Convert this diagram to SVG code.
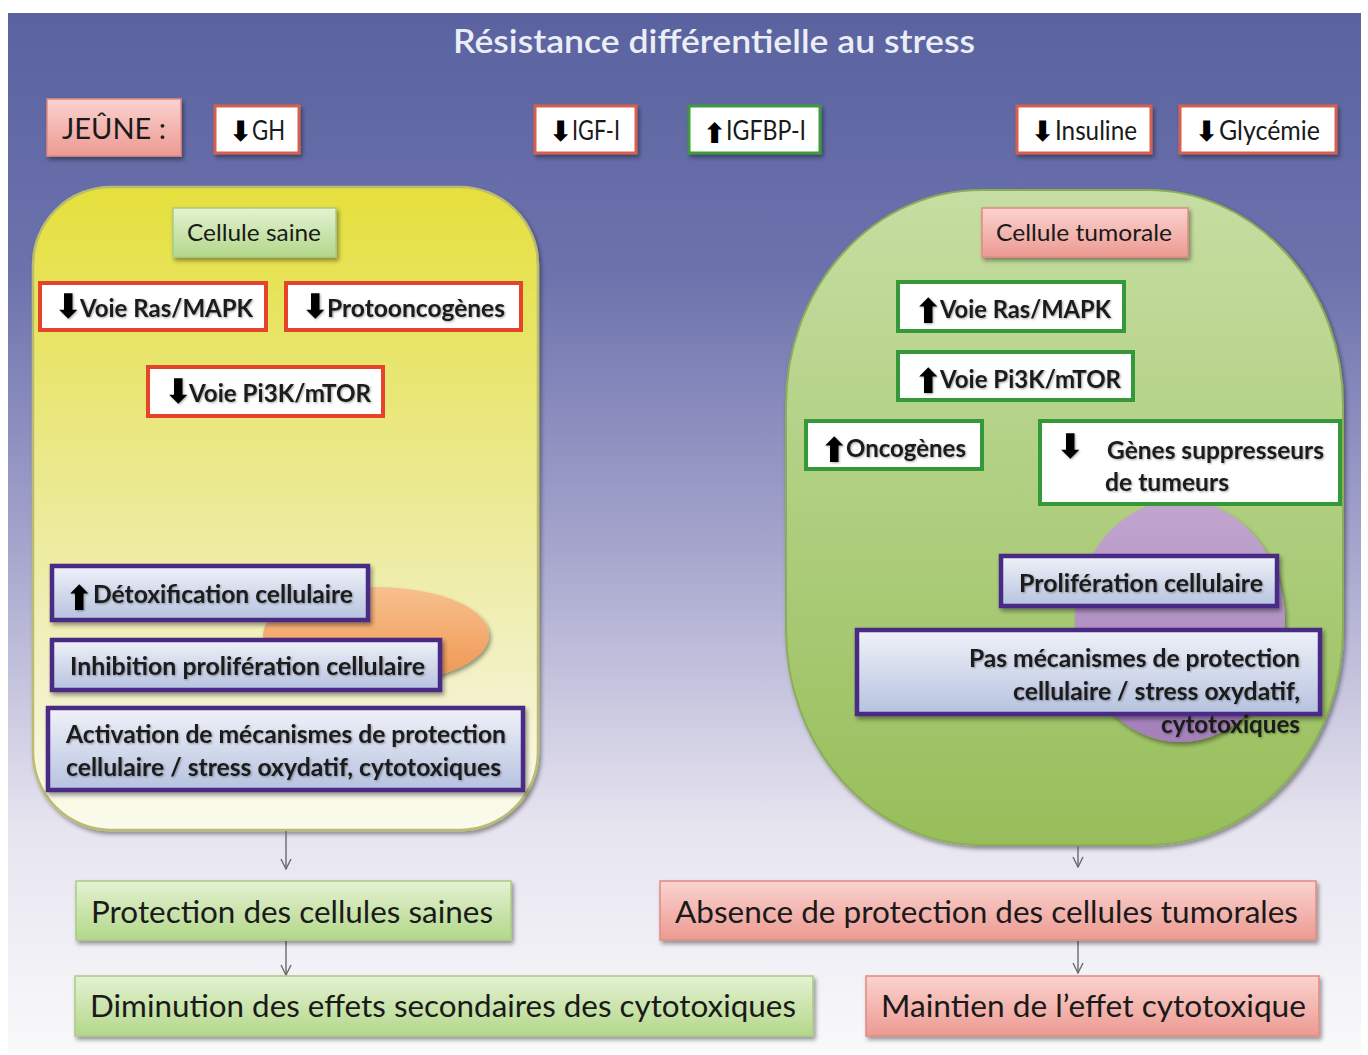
<svg xmlns="http://www.w3.org/2000/svg" width="1368" height="1055" viewBox="0 0 1368 1055">
<defs>
  <linearGradient id="bg" x1="0" y1="0" x2="0" y2="1">
    <stop offset="0" stop-color="#5a63a0"/>
    <stop offset="0.25" stop-color="#6c72ac"/>
    <stop offset="0.5" stop-color="#a2a2cb"/>
    <stop offset="0.78" stop-color="#e6e4ef"/>
    <stop offset="1" stop-color="#f9f9fb"/>
  </linearGradient>
  <linearGradient id="yel" x1="0" y1="0" x2="0" y2="1">
    <stop offset="0" stop-color="#e5e03c"/>
    <stop offset="0.45" stop-color="#ebe98e"/>
    <stop offset="0.8" stop-color="#f3f2cc"/>
    <stop offset="1" stop-color="#fbfbee"/>
  </linearGradient>
  <linearGradient id="grn" x1="0" y1="0" x2="0" y2="1">
    <stop offset="0" stop-color="#c6dea2"/>
    <stop offset="1" stop-color="#97be5a"/>
  </linearGradient>
  <linearGradient id="pinkg" x1="0" y1="0" x2="0" y2="1">
    <stop offset="0" stop-color="#fbd3cf"/>
    <stop offset="1" stop-color="#ec9a92"/>
  </linearGradient>
  <linearGradient id="greeng" x1="0" y1="0" x2="0" y2="1">
    <stop offset="0" stop-color="#e4f2d2"/>
    <stop offset="1" stop-color="#b3d78a"/>
  </linearGradient>
  <linearGradient id="blueg" x1="0" y1="0" x2="0" y2="1">
    <stop offset="0" stop-color="#f0f2f9"/>
    <stop offset="1" stop-color="#b6c2df"/>
  </linearGradient>
  <linearGradient id="orang" x1="0" y1="0" x2="0" y2="1">
    <stop offset="0" stop-color="#f7c08e"/>
    <stop offset="1" stop-color="#ef9650"/>
  </linearGradient>
  <linearGradient id="purpg" x1="0" y1="0" x2="0" y2="1">
    <stop offset="0" stop-color="#c2a6cf"/>
    <stop offset="1" stop-color="#a47fba"/>
  </linearGradient>
  <filter id="sh" x="-10%" y="-20%" width="120%" height="150%">
    <feDropShadow dx="2" dy="3" stdDeviation="2" flood-color="#000" flood-opacity="0.4"/>
  </filter>
  <filter id="tsh" x="-5%" y="-20%" width="110%" height="150%">
    <feDropShadow dx="1" dy="1" stdDeviation="0.8" flood-color="#000" flood-opacity="0.35"/>
  </filter>
  <marker id="arr" viewBox="0 0 12 12" refX="11" refY="6" markerWidth="12" markerHeight="12" markerUnits="userSpaceOnUse" orient="auto">
    <path d="M1,1 L11,6 L1,11" fill="none" stroke="#6a6a6a" stroke-width="1.4"/>
  </marker>
  <style>
    text { font-family: Lato, "Liberation Sans", sans-serif; fill: #1a1a1a; }
    .title { font-size: 32px; font-weight: 600; fill: #eceef6; }
    .top { font-size: 26px; }
    .lab { font-size: 25px; font-weight: bold; }
    .big { font-size: 31px; }
    .ar { font-family: "DejaVu Sans", sans-serif; font-size: 34px; font-weight: bold; fill: #000; }
    .ar2 { font-family: "DejaVu Sans", sans-serif; font-size: 28px; font-weight: bold; fill: #000; }
    .redb { fill: #fff; stroke: #d5604e; stroke-width: 3; }
    .redB { fill: #fff; stroke: #e6432b; stroke-width: 4; }
    .grnB { fill: #fff; stroke: #35993a; stroke-width: 4; }
    .grnb { fill: #fff; stroke: #3c9a3c; stroke-width: 3; }
    .purB { fill: url(#blueg); stroke: #4a2b84; stroke-width: 4.5; }
    .pink { fill: url(#pinkg); stroke: #e08a82; stroke-width: 1.5; }
    .green { fill: url(#greeng); stroke: #a9cc82; stroke-width: 1.5; }
    .conn { stroke: #6a6a6a; stroke-width: 1.4; fill: none; }
  </style>
</defs>

<rect x="0" y="0" width="1368" height="1055" fill="#ffffff"/>
<rect x="8" y="13" width="1353" height="1040" fill="url(#bg)"/>

<g id="title">
  <text class="title" x="453" y="53" textLength="522" lengthAdjust="spacingAndGlyphs">Résistance différentielle au stress</text>
</g>

<!-- Top row -->
<g id="jeune">
  <rect class="pink" x="47" y="99" width="134" height="57" filter="url(#sh)"/>
  <text x="62" y="139" font-size="28" textLength="104" lengthAdjust="spacingAndGlyphs">JEÛNE :</text>
</g>
<g id="gh">
  <rect class="redb" x="215" y="106" width="84" height="47" filter="url(#sh)"/>
  <text class="top"><tspan class="ar2" x="229" y="141">⬇</tspan><tspan x="252" y="140" textLength="33" lengthAdjust="spacingAndGlyphs">GH</tspan></text>
</g>
<g id="igf">
  <rect class="redb" x="535" y="106" width="101" height="47" filter="url(#sh)"/>
  <text class="top"><tspan class="ar2" x="549" y="141">⬇</tspan><tspan x="572" y="140" textLength="48" lengthAdjust="spacingAndGlyphs">IGF-I</tspan></text>
</g>
<g id="igfbp">
  <rect class="grnb" x="689" y="106" width="131" height="47" filter="url(#sh)"/>
  <text class="top"><tspan class="ar2" x="703" y="143">⬆</tspan><tspan x="726" y="140" textLength="80" lengthAdjust="spacingAndGlyphs">IGFBP-I</tspan></text>
</g>
<g id="insuline">
  <rect class="redb" x="1017" y="106" width="134" height="47" filter="url(#sh)"/>
  <text class="top"><tspan class="ar2" x="1031" y="141">⬇</tspan><tspan x="1055" y="140" textLength="82" lengthAdjust="spacingAndGlyphs">Insuline</tspan></text>
</g>
<g id="glycemie">
  <rect class="redb" x="1180" y="106" width="156" height="47" filter="url(#sh)"/>
  <text class="top"><tspan class="ar2" x="1195" y="141">⬇</tspan><tspan x="1219" y="140" textLength="101" lengthAdjust="spacingAndGlyphs">Glycémie</tspan></text>
</g>

<!-- Left cell -->
<g id="cellule-saine-zone">
  <rect x="33" y="187" width="505" height="643" rx="78" ry="78" fill="url(#yel)" stroke="#bcbc70" stroke-width="2.5" filter="url(#sh)"/>
  <ellipse cx="376" cy="635" rx="113" ry="48" fill="url(#orang)" filter="url(#sh)"/>
</g>
<g id="cellule-saine">
  <rect class="green" x="173" y="208" width="163" height="49" filter="url(#sh)"/>
  <text x="187" y="241" font-size="24" textLength="134" lengthAdjust="spacingAndGlyphs">Cellule saine</text>
</g>
<g id="l-ras">
  <rect class="redB" x="40" y="283" width="226" height="47"/>
  <text class="lab" filter="url(#tsh)"><tspan class="ar" x="54" y="318">⬇</tspan><tspan x="80" y="317" textLength="173" lengthAdjust="spacingAndGlyphs">Voie Ras/MAPK</tspan></text>
</g>
<g id="l-proto">
  <rect class="redB" x="286" y="283" width="235" height="47"/>
  <text class="lab" filter="url(#tsh)"><tspan class="ar" x="301" y="318">⬇</tspan><tspan x="327" y="317" textLength="178" lengthAdjust="spacingAndGlyphs">Protooncogènes</tspan></text>
</g>
<g id="l-pi3k">
  <rect class="redB" x="148" y="367" width="235" height="49"/>
  <text class="lab" filter="url(#tsh)"><tspan class="ar" x="164" y="403">⬇</tspan><tspan x="189" y="402" textLength="182" lengthAdjust="spacingAndGlyphs">Voie Pi3K/mTOR</tspan></text>
</g>
<g id="l-detox">
  <rect class="purB" x="52" y="566" width="316" height="54" filter="url(#sh)"/>
  <text class="lab" filter="url(#tsh)"><tspan class="ar" x="65" y="610">⬆</tspan><tspan x="93" y="603" textLength="260" lengthAdjust="spacingAndGlyphs">Détoxification cellulaire</tspan></text>
</g>
<g id="l-inhib">
  <rect class="purB" x="52" y="640" width="388" height="50" filter="url(#sh)"/>
  <text class="lab" x="70" y="675" textLength="355" lengthAdjust="spacingAndGlyphs" filter="url(#tsh)">Inhibition prolifération cellulaire</text>
</g>
<g id="l-activ">
  <rect class="purB" x="48" y="708" width="475" height="82" filter="url(#sh)"/>
  <text class="lab" x="66" y="743" textLength="440" lengthAdjust="spacingAndGlyphs" filter="url(#tsh)">Activation de mécanismes de protection</text>
  <text class="lab" x="66" y="776" textLength="435" lengthAdjust="spacingAndGlyphs" filter="url(#tsh)">cellulaire / stress oxydatif, cytotoxiques</text>
</g>

<!-- Right cell -->
<g id="cellule-tumorale-zone">
  <rect x="786" y="190" width="557" height="655" rx="195" ry="215" fill="url(#grn)" stroke="#8cae58" stroke-width="2" filter="url(#sh)"/>
  <ellipse cx="1180" cy="621" rx="105" ry="121" fill="url(#purpg)" filter="url(#sh)"/>
</g>
<g id="cellule-tumorale">
  <rect class="pink" x="982" y="208" width="206" height="49" filter="url(#sh)"/>
  <text x="996" y="241" font-size="24" textLength="176" lengthAdjust="spacingAndGlyphs">Cellule tumorale</text>
</g>
<g id="r-ras">
  <rect class="grnB" x="898" y="282" width="226" height="49"/>
  <text class="lab" filter="url(#tsh)"><tspan class="ar" x="914" y="323">⬆</tspan><tspan x="940" y="318" textLength="171" lengthAdjust="spacingAndGlyphs">Voie Ras/MAPK</tspan></text>
</g>
<g id="r-pi3k">
  <rect class="grnB" x="898" y="352" width="235" height="48"/>
  <text class="lab" filter="url(#tsh)"><tspan class="ar" x="914" y="393">⬆</tspan><tspan x="940" y="388" textLength="181" lengthAdjust="spacingAndGlyphs">Voie Pi3K/mTOR</tspan></text>
</g>
<g id="r-onco">
  <rect class="grnB" x="806" y="421" width="176" height="48"/>
  <text class="lab" filter="url(#tsh)"><tspan class="ar" x="820" y="462">⬆</tspan><tspan x="846" y="457" textLength="120" lengthAdjust="spacingAndGlyphs">Oncogènes</tspan></text>
</g>
<g id="r-supp">
  <rect class="grnB" x="1040" y="421" width="300" height="83"/>
  <text class="lab" filter="url(#tsh)"><tspan class="ar" x="1056" y="458">⬇</tspan><tspan x="1107" y="459" textLength="217" lengthAdjust="spacingAndGlyphs">Gènes suppresseurs</tspan></text>
  <text class="lab" x="1105" y="491" textLength="124" lengthAdjust="spacingAndGlyphs" filter="url(#tsh)">de tumeurs</text>
</g>
<g id="r-prolif">
  <rect class="purB" x="1001" y="556" width="276" height="50" filter="url(#sh)"/>
  <text class="lab" x="1019" y="592" textLength="244" lengthAdjust="spacingAndGlyphs" filter="url(#tsh)">Prolifération cellulaire</text>
</g>
<g id="r-pas">
  <rect class="purB" x="857" y="630" width="463" height="84" filter="url(#sh)"/>
  <text class="lab" x="969" y="667" textLength="331" lengthAdjust="spacingAndGlyphs" filter="url(#tsh)">Pas mécanismes de protection</text>
  <text class="lab" x="1013" y="700" textLength="287" lengthAdjust="spacingAndGlyphs" filter="url(#tsh)">cellulaire / stress oxydatif,</text>
  <text class="lab" x="1161" y="733" textLength="139" lengthAdjust="spacingAndGlyphs" filter="url(#tsh)">cytotoxiques</text>
</g>

<!-- Connectors -->
<g id="connectors">
  <line class="conn" x1="286" y1="831" x2="286" y2="869" marker-end="url(#arr)"/>
  <line class="conn" x1="286" y1="941" x2="286" y2="975" marker-end="url(#arr)"/>
  <line class="conn" x1="1078" y1="846" x2="1078" y2="867" marker-end="url(#arr)"/>
  <line class="conn" x1="1078" y1="941" x2="1078" y2="973" marker-end="url(#arr)"/>
</g>

<!-- Bottom boxes -->
<g id="protection">
  <rect class="green" x="76" y="881" width="435" height="59" filter="url(#sh)"/>
  <text class="big" x="91" y="923" textLength="402" lengthAdjust="spacingAndGlyphs">Protection des cellules saines</text>
</g>
<g id="absence">
  <rect class="pink" x="660" y="881" width="656" height="59" filter="url(#sh)"/>
  <text class="big" x="675" y="923" textLength="623" lengthAdjust="spacingAndGlyphs">Absence de protection des cellules tumorales</text>
</g>
<g id="diminution">
  <rect class="green" x="75" y="976" width="738" height="60" filter="url(#sh)"/>
  <text class="big" x="90" y="1017" textLength="706" lengthAdjust="spacingAndGlyphs">Diminution des effets secondaires des cytotoxiques</text>
</g>
<g id="maintien">
  <rect class="pink" x="866" y="976" width="453" height="60" filter="url(#sh)"/>
  <text class="big" x="881" y="1017" textLength="425" lengthAdjust="spacingAndGlyphs">Maintien de l’effet cytotoxique</text>
</g>
</svg>
